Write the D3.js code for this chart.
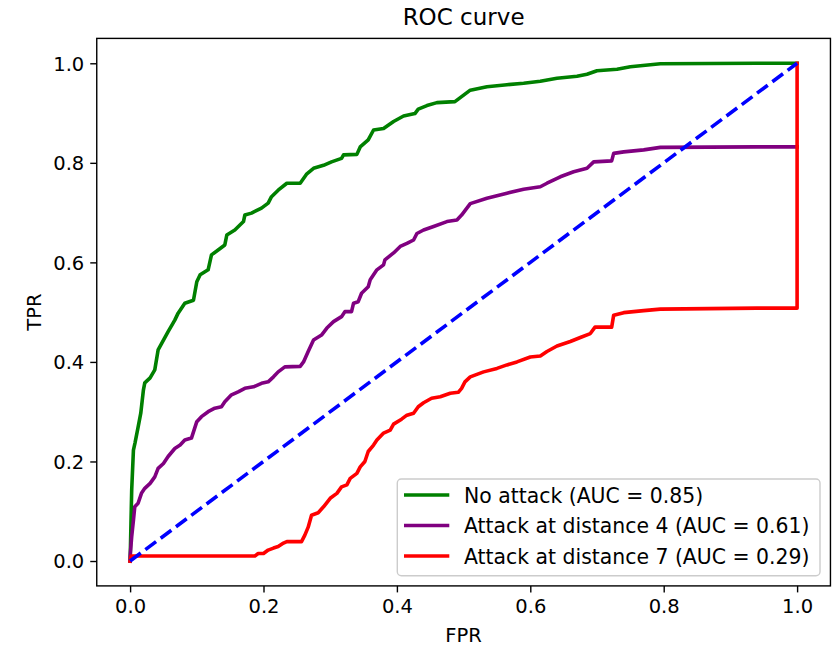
<!DOCTYPE html>
<html>
<head>
<meta charset="utf-8">
<script src="https://cdn.jsdelivr.net/npm/d3@7"></script>
<style>
  html, body { margin: 0; padding: 0; background: #fff; }
  svg { display: block; font-family: "DejaVu Sans", sans-serif; }
</style>
</head>
<body>
<svg id="chart" width="835" height="646"></svg>
<script>
// ---------- data ----------
const title = "ROC curve";
const xLabel = "FPR";
const yLabel = "TPR";
const xTicks = [0.0, 0.2, 0.4, 0.6, 0.8, 1.0];
const yTicks = [0.0, 0.2, 0.4, 0.6, 0.8, 1.0];
const seriesNames = ["No attack (AUC = 0.85)", "Attack at distance 4 (AUC = 0.61)", "Attack at distance 7 (AUC = 0.29)"];
const seriesColors = ["green", "purple", "red"];

const noAttackFpr = [0,0.0006,0.0013,0.0024,0.005,0.0073,0.012,0.016,0.020,0.022,0.030,0.037,0.042,0.057,0.067,0.072,0.082,0.095,0.100,0.105,0.117,0.122,0.135,0.142,0.145,0.157,0.170,0.172,0.182,0.197,0.207,0.212,0.222,0.235,0.255,0.265,0.275,0.290,0.302,0.317,0.320,0.340,0.345,0.357,0.365,0.380,0.395,0.410,0.427,0.432,0.445,0.460,0.487,0.497,0.510,0.535,0.565,0.590,0.615,0.640,0.670,0.685,0.700,0.730,0.750,0.795,0.940,1.0];
const noAttackTpr = [0,0.032,0.076,0.143,0.223,0.237,0.269,0.297,0.344,0.358,0.368,0.384,0.424,0.461,0.484,0.498,0.518,0.524,0.561,0.575,0.585,0.615,0.628,0.635,0.655,0.665,0.682,0.695,0.699,0.709,0.719,0.732,0.745,0.759,0.759,0.778,0.789,0.795,0.802,0.809,0.816,0.817,0.832,0.846,0.866,0.869,0.883,0.894,0.899,0.908,0.915,0.921,0.923,0.933,0.946,0.953,0.957,0.960,0.964,0.970,0.974,0.978,0.985,0.988,0.993,0.999,1.0,1.0];

const dist4Fpr = [0,0,0.0024,0.005,0.007,0.012,0.017,0.022,0.030,0.037,0.042,0.050,0.057,0.067,0.075,0.082,0.092,0.100,0.107,0.117,0.127,0.137,0.142,0.152,0.162,0.172,0.185,0.197,0.207,0.215,0.222,0.232,0.255,0.260,0.267,0.275,0.287,0.295,0.305,0.317,0.322,0.332,0.335,0.342,0.347,0.357,0.360,0.370,0.380,0.382,0.395,0.405,0.415,0.425,0.430,0.440,0.455,0.475,0.490,0.497,0.510,0.535,0.565,0.590,0.615,0.625,0.645,0.665,0.685,0.695,0.722,0.725,0.740,0.770,0.795,0.940,1.0];
const dist4Tpr = [0,0.009,0.049,0.082,0.109,0.116,0.136,0.146,0.156,0.169,0.186,0.196,0.210,0.226,0.233,0.243,0.247,0.280,0.290,0.300,0.307,0.310,0.320,0.334,0.340,0.347,0.350,0.357,0.360,0.370,0.380,0.390,0.391,0.400,0.421,0.444,0.454,0.468,0.481,0.491,0.501,0.501,0.518,0.521,0.538,0.551,0.565,0.585,0.595,0.605,0.619,0.632,0.638,0.645,0.658,0.665,0.672,0.682,0.685,0.695,0.718,0.729,0.739,0.747,0.752,0.759,0.772,0.782,0.789,0.802,0.804,0.819,0.822,0.826,0.831,0.832,0.832];

const dist7Fpr = [0,0.0015,0.187,0.192,0.200,0.207,0.215,0.222,0.230,0.235,0.257,0.262,0.267,0.272,0.282,0.290,0.300,0.310,0.317,0.325,0.330,0.340,0.345,0.352,0.357,0.365,0.370,0.380,0.390,0.395,0.407,0.415,0.425,0.432,0.440,0.452,0.465,0.480,0.492,0.497,0.502,0.510,0.530,0.550,0.565,0.580,0.600,0.615,0.625,0.640,0.660,0.675,0.690,0.697,0.722,0.725,0.740,0.770,0.795,0.940,1.0,1.0];
const dist7Tpr = [0,0.010,0.010,0.015,0.015,0.022,0.026,0.029,0.036,0.039,0.039,0.052,0.068,0.092,0.097,0.109,0.126,0.136,0.149,0.153,0.166,0.176,0.189,0.200,0.220,0.233,0.243,0.257,0.263,0.275,0.285,0.293,0.297,0.310,0.318,0.327,0.330,0.337,0.339,0.347,0.360,0.370,0.380,0.387,0.394,0.400,0.410,0.412,0.421,0.432,0.441,0.449,0.457,0.470,0.470,0.494,0.499,0.503,0.506,0.508,0.508,1.0];

const chanceFpr = [0, 1];
const chanceTpr = [0, 1];

// ---------- layout ----------
const svg = d3.select("#chart");
const x = d3.scaleLinear().domain([-0.05, 1.05]).range([96.75, 830.45]);
const y = d3.scaleLinear().domain([-0.05, 1.05]).range([585.9, 38.4]);
const lw = 3.6;

const zip = (a, b) => a.map((v, i) => [v, b[i]]);
const line = d3.line().x(d => x(d[0])).y(d => y(d[1]));

const series = [zip(noAttackFpr, noAttackTpr), zip(dist4Fpr, dist4Tpr), zip(dist7Fpr, dist7Tpr)];

svg.append("defs").append("clipPath").attr("id", "clip")
  .append("rect").attr("x", x(-0.05)).attr("y", y(1.05))
  .attr("width", x(1.05) - x(-0.05)).attr("height", y(-0.05) - y(1.05));

const plot = svg.append("g").attr("clip-path", "url(#clip)");

series.forEach((s, i) => {
  plot.append("path").datum(s)
    .attr("d", line)
    .attr("fill", "none")
    .attr("stroke", seriesColors[i])
    .attr("stroke-width", lw)
    .attr("stroke-linejoin", "round")
    .attr("stroke-linecap", "square");
});

plot.append("path").datum(zip(chanceFpr, chanceTpr))
  .attr("d", line)
  .attr("fill", "none")
  .attr("stroke", "blue")
  .attr("stroke-width", lw)
  .attr("stroke-dasharray", `${3.7 * lw} ${1.6 * lw}`);

// ---------- axes ----------
const tickFont = 19.5;
const xAxis = d3.axisBottom(x).tickValues(xTicks).tickFormat(d3.format(".1f")).tickSize(6.5).tickPadding(5);
const yAxis = d3.axisLeft(y).tickValues(yTicks).tickFormat(d3.format(".1f")).tickSize(6.5).tickPadding(6);

const gx = svg.append("g").attr("transform", `translate(0,${y(-0.05)})`).call(xAxis);
const gy = svg.append("g").attr("transform", `translate(${x(-0.05)},0)`).call(yAxis);
[gx, gy].forEach(g => {
  g.select(".domain").remove();
  g.selectAll(".tick line").attr("stroke", "#000").attr("stroke-width", 1.4);
  g.selectAll(".tick text").attr("fill", "#000")
    .style("font-size", tickFont + "px")
    .style("font-family", "DejaVu Sans");
});
gx.selectAll(".tick text").attr("dy", "0.8em");
gy.selectAll(".tick text").attr("dy", "0.35em");

// frame
svg.append("rect")
  .attr("x", x(-0.05)).attr("y", y(1.05))
  .attr("width", x(1.05) - x(-0.05)).attr("height", y(-0.05) - y(1.05))
  .attr("fill", "none").attr("stroke", "#000").attr("stroke-width", 1.4);

// labels
const cx = (x(-0.05) + x(1.05)) / 2;
svg.append("text").attr("x", cx).attr("y", 25)
  .attr("text-anchor", "middle").style("font-size", "23px").text(title);
svg.append("text").attr("x", cx).attr("y", 642)
  .attr("text-anchor", "middle").style("font-size", "19.5px").text(xLabel);
svg.append("text")
  .attr("transform", `translate(41,${(y(-0.05) + y(1.05)) / 2}) rotate(-90)`)
  .attr("text-anchor", "middle").style("font-size", "19.5px").text(yLabel);

// ---------- legend ----------
const leg = svg.append("g");
leg.append("rect")
  .attr("x", 397.3).attr("y", 479).attr("width", 422.7).attr("height", 96.7)
  .attr("rx", 4).attr("ry", 4)
  .attr("fill", "#fff").attr("fill-opacity", 0.8)
  .attr("stroke", "#cccccc").attr("stroke-width", 1.4);
const rowY = [495, 525.5, 556];
seriesNames.forEach((name, i) => {
  leg.append("line")
    .attr("x1", 405.8).attr("x2", 447.5)
    .attr("y1", rowY[i]).attr("y2", rowY[i])
    .attr("stroke", seriesColors[i]).attr("stroke-width", lw)
    .attr("stroke-linecap", "square");
  leg.append("text")
    .attr("x", 464).attr("y", rowY[i] + 7.5)
    .style("font-size", "20.4px").text(name);
});
</script>
</body>
</html>
